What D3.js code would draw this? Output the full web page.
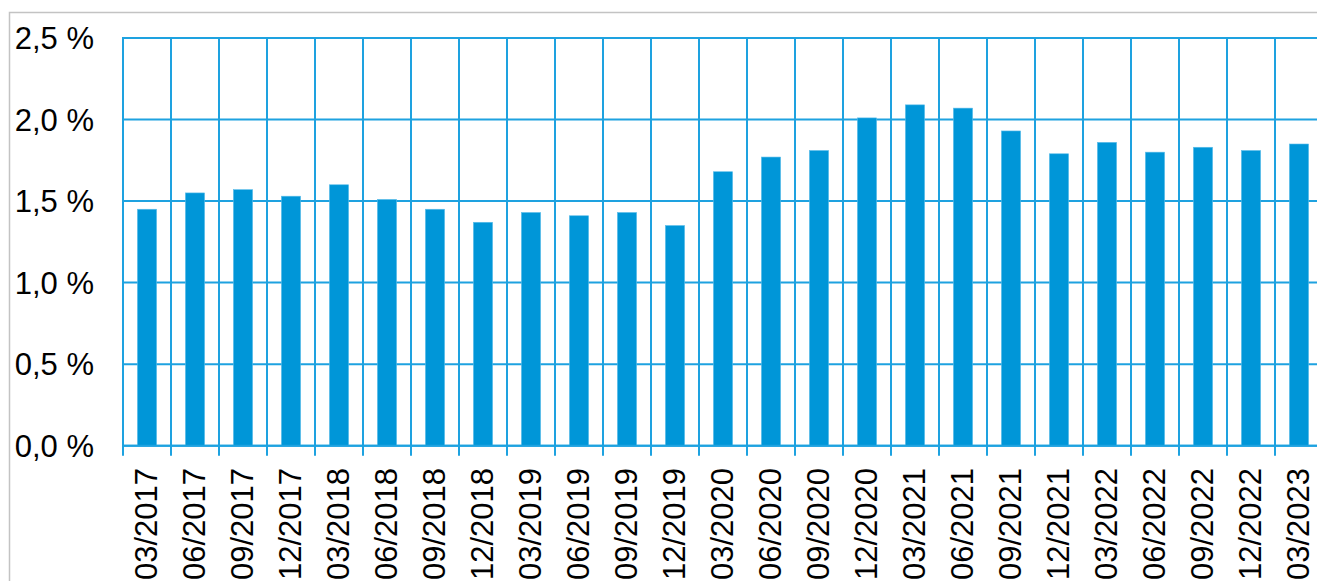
<!DOCTYPE html>
<html>
<head>
<meta charset="utf-8">
<script src="https://cdn.jsdelivr.net/npm/d3@7"></script>
<style>
  html, body { margin: 0; padding: 0; background: #ffffff; }
  svg { display: block; }
  text { font-family: "Liberation Sans", Arial, sans-serif; fill: #000000; }
</style>
</head>
<body>
<svg id="chart" width="1317" height="581"></svg>
<script>
// Quarter-end labels
const quarters = [
  "03/2017", "06/2017", "09/2017", "12/2017",
  "03/2018", "06/2018", "09/2018", "12/2018",
  "03/2019", "06/2019", "09/2019", "12/2019",
  "03/2020", "06/2020", "09/2020", "12/2020",
  "03/2021", "06/2021", "09/2021", "12/2021",
  "03/2022", "06/2022", "09/2022", "12/2022",
  "03/2023"
];

// Share in percent for each quarter
const shares = [
  1.45, 1.55, 1.57, 1.53,
  1.60, 1.51, 1.45, 1.37,
  1.43, 1.41, 1.43, 1.35,
  1.68, 1.77, 1.81, 2.01,
  2.09, 2.07, 1.93, 1.79,
  1.86, 1.80, 1.83, 1.81,
  1.85
];

// Value axis ticks
const yTicks = [0, 0.5, 1.0, 1.5, 2.0, 2.5];

const svg = d3.select("#chart");
const W = 1317, H = 581;

const plot = { left: 123, top: 38, bottom: 445.7, width: 1200 };

const barColor = "#0096d8";
const gridColor = "#1ea2e0";

// outer frame
svg.append("path")
  .attr("d", `M9.5,${H} V12.5 H${W}`)
  .attr("fill", "none")
  .attr("stroke", "#c3c3c3")
  .attr("stroke-width", 1.5);

const x = d3.scaleBand()
  .domain(quarters)
  .range([plot.left, plot.left + plot.width])
  .paddingInner(0.6)
  .paddingOuter(0.3);

const y = d3.scaleLinear()
  .domain([0, 2.5])
  .range([plot.bottom, plot.top]);

const locale = d3.formatLocale({ decimal: ",", thousands: ".", grouping: [3], currency: ["", " €"] });
const fmt = locale.format(".1f");

const g = svg.append("g");

// horizontal grid
g.append("g").selectAll("line")
  .data(yTicks)
  .join("line")
  .attr("x1", plot.left)
  .attr("x2", W)
  .attr("y1", d => y(d))
  .attr("y2", d => y(d))
  .attr("stroke", gridColor)
  .attr("stroke-width", 2);

// vertical grid at category boundaries, extending below the baseline as ticks
const step = x.step();
const bounds = d3.range(quarters.length + 1).map(i => x.range()[0] + i * step);
g.append("g").selectAll("line")
  .data(bounds)
  .join("line")
  .attr("x1", d => d)
  .attr("x2", d => d)
  .attr("y1", plot.top - 1)
  .attr("y2", plot.bottom + 10)
  .attr("stroke", gridColor)
  .attr("stroke-width", 2);

// bars
g.append("g").selectAll("rect")
  .data(quarters.map((q, i) => ({ q, v: shares[i] })))
  .join("rect")
  .attr("x", d => x(d.q))
  .attr("width", x.bandwidth())
  .attr("y", d => y(d.v))
  .attr("height", d => y(0) - y(d.v))
  .attr("fill", barColor)
  .attr("stroke", "#5cbdea")
  .attr("stroke-width", 0.6);

// redraw baseline above bars
g.append("line")
  .attr("x1", plot.left)
  .attr("x2", W)
  .attr("y1", y(0))
  .attr("y2", y(0))
  .attr("stroke", gridColor)
  .attr("stroke-width", 2);

// y-axis labels
svg.append("g").selectAll("text")
  .data(yTicks)
  .join("text")
  .attr("x", 94)
  .attr("y", d => y(d))
  .attr("dy", "0.36em")
  .attr("text-anchor", "end")
  .style("font-size", "31px")
  .text(d => fmt(d) + " %");

// x-axis labels, rotated
svg.append("g").selectAll("text")
  .data(quarters)
  .join("text")
  .attr("transform", d => `translate(${x(d) + x.bandwidth() / 2 - 1},468) rotate(-90)`)
  .attr("dy", "0.36em")
  .attr("text-anchor", "end")
  .style("font-size", "31px")
  .text(d => d);
</script>
</body>
</html>
